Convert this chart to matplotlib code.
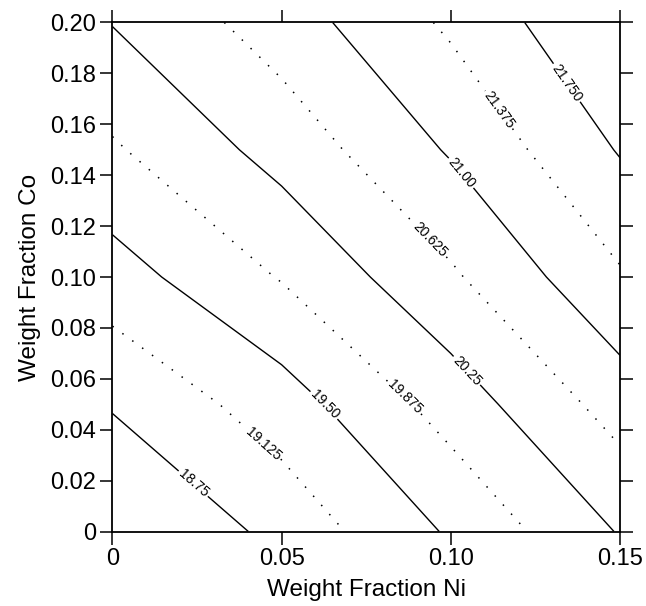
import numpy as np
import matplotlib
matplotlib.use('Agg')
import matplotlib.pyplot as plt

plt.rcParams['font.family'] = ['Liberation Sans', 'DejaVu Sans']

# grid of the field
ni = [0.0, 0.05, 0.10, 0.15]
co = [0.0, 0.05, 0.10, 0.15, 0.20]
z_rows = [
    [18.24, 18.875, 19.546, 20.276],
    [18.79, 19.32, 20.039, 20.792],
    [19.336, 19.90, 20.568, 21.333],
    [19.83, 20.39, 21.039, 21.778],
    [20.264, 20.81, 21.44, 22.15],
]

solid_levels = [18.75, 19.50, 20.25, 21.00, 21.75]
dotted_levels = [19.125, 19.875, 20.625, 21.375]
level_text = {18.75: '18.75', 19.125: '19.125', 19.50: '19.50',
              19.875: '19.875', 20.25: '20.25', 20.625: '20.625',
              21.00: '21.00', 21.375: '21.375', 21.75: '21.750'}
solid_label_pos = [(0.024, 0.019), (0.0645, 0.052), (0.107, 0.066),
                   (0.105, 0.143), (0.135, 0.177)]
dotted_label_pos = [(0.047, 0.038), (0.088, 0.055), (0.095, 0.116),
                    (0.1145, 0.166)]

xticks = [0, 0.05, 0.10, 0.15]
xticklabels = ['0', '0.05', '0.10', '0.15']
yticks = [0, 0.02, 0.04, 0.06, 0.08, 0.10, 0.12, 0.14, 0.16, 0.18, 0.20]
yticklabels = ['0', '0.02', '0.04', '0.06', '0.08', '0.10', '0.12',
               '0.14', '0.16', '0.18', '0.20']

X, Y = np.meshgrid(ni, co)
Z = np.array(z_rows)

fig = plt.figure(figsize=(6.46, 6.06), dpi=100)
ax = fig.add_axes([0.1741, 0.1229, 0.7857, 0.8400])

cs1 = ax.contour(X, Y, Z, levels=solid_levels, colors='black',
                 linewidths=1.0, linestyles='solid')
cs2 = ax.contour(X, Y, Z, levels=dotted_levels, colors='black',
                 linewidths=1.1, linestyles=[(0, (1, 7))])
ax.clabel(cs1, fmt=level_text, fontsize=10, inline=True, inline_spacing=2,
          manual=solid_label_pos)
ax.clabel(cs2, fmt=level_text, fontsize=10, inline=True, inline_spacing=2,
          manual=dotted_label_pos)

ax.set_xlim(0, 0.15)
ax.set_ylim(0, 0.20)
ax.set_xticks(xticks)
ax.set_xticklabels(xticklabels)
ax.set_yticks(yticks)
ax.set_yticklabels(yticklabels)
ax.tick_params(direction='out', length=9, width=1.1, labelsize=17,
               top=True, right=True, pad=3)
for s in ax.spines.values():
    s.set_linewidth(1.3)

ax.set_xlabel('Weight Fraction Ni', fontsize=17.5, labelpad=6)
ax.set_ylabel('Weight Fraction Co', fontsize=17.5, labelpad=6)

fig.savefig('out.png', dpi=100)
